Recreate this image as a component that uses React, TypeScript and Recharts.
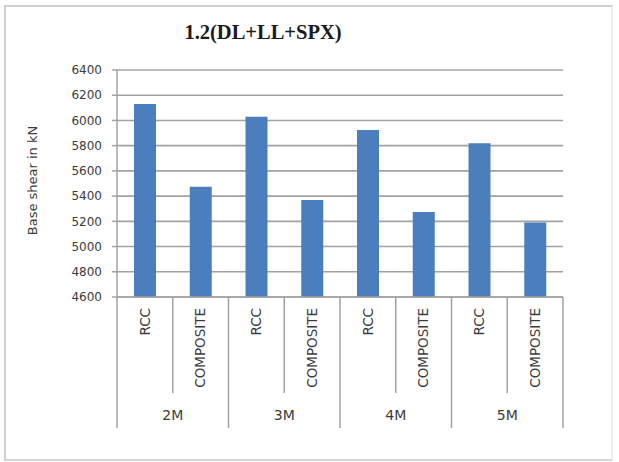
import React from 'react';
import { BarChart, Bar, XAxis, YAxis, CartesianGrid } from 'recharts';

// Categories: structure type within each storey-height group
const categories = ['RCC', 'COMPOSITE', 'RCC', 'COMPOSITE', 'RCC', 'COMPOSITE', 'RCC', 'COMPOSITE'];
const groups = ['2M', '2M', '3M', '3M', '4M', '4M', '5M', '5M'];
// Base shear values (kN)
const baseShear = [6130, 5475, 6030, 5370, 5925, 5275, 5820, 5190];
const yTicks = [4600, 4800, 5000, 5200, 5400, 5600, 5800, 6000, 6200, 6400];

const data = categories.map((c, i) => ({
  key: `${groups[i]}-${c}-${i}`,
  category: c,
  group: groups[i],
  value: baseShear[i],
}));

const AXIS_GRAY = '#a3a3a3';
const TEXT = '#3c3c3c';

const CategoryTick = (props: any) => {
  const { x, y, payload, index } = props;
  const half = payload && payload.offset ? payload.offset : 55.75 / 2;
  const cx = x;
  const left = cx - half;
  const right = cx + half;
  const isGroupStart = index % 2 === 0;
  const label = categories[index];
  const labelTop = y + 11;
  return (
    <g>
      <line
        x1={left}
        y1={y}
        x2={left}
        y2={y + (isGroupStart ? 131 : 96)}
        stroke={AXIS_GRAY}
        strokeWidth={1.5}
      />
      {index === categories.length - 1 && (
        <line x1={right} y1={y} x2={right} y2={y + 131} stroke={AXIS_GRAY} strokeWidth={1.5} />
      )}
      <text
        x={cx}
        y={labelTop}
        transform={`rotate(-90 ${cx} ${labelTop})`}
        textAnchor="end"
        dy="0.36em"
        fontFamily="DejaVu Sans"
        fontSize={13.5}
        fill={TEXT}
      >
        {label}
      </text>
      {!isGroupStart && (
        <text
          x={left}
          y={y + 123}
          textAnchor="middle"
          fontFamily="DejaVu Sans"
          fontSize={14}
          fill={TEXT}
        >
          {groups[index]}
        </text>
      )}
    </g>
  );
};

const YAxisTitle = (props: any) => {
  const vb = props.viewBox || { x: 57, y: 70, width: 60, height: 227 };
  const cx = vb.x - 25;
  const cy = vb.y + vb.height / 2 - 3;
  return (
    <text
      x={cx}
      y={cy}
      transform={`rotate(-90 ${cx} ${cy})`}
      textAnchor="middle"
      dy="0.36em"
      fontFamily="DejaVu Sans"
      fontSize={13}
      fill={TEXT}
    >
      Base shear in kN
    </text>
  );
};

export default function App() {
  return (
    <div style={{ position: 'absolute', left: 0, top: 0, width: 619, height: 462, background: '#fff' }}>
      <div
        style={{
          position: 'absolute',
          left: 4,
          top: 5,
          width: 605,
          height: 452,
          borderTop: '2px solid #cfcfcf',
          borderLeft: '2px solid #cfcfcf',
          borderBottom: '2px solid #d6d6d6',
          borderRight: '2px solid #ededed',
        }}
      />
      <div
        style={{
          position: 'absolute',
          left: 0,
          top: 21,
          width: 526,
          textAlign: 'center',
          fontFamily: 'Liberation Serif',
          fontWeight: 'bold',
          fontSize: 20.5,
          color: '#1a1a1a',
        }}
      >
        1.2(DL+LL+SPX)
      </div>
      <div style={{ position: 'absolute', left: 0, top: 0 }}>
        <BarChart
          width={619}
          height={462}
          data={data}
          margin={{ top: 70, right: 56, bottom: 0, left: 57 }}
        >
          <CartesianGrid vertical={false} stroke={AXIS_GRAY} strokeWidth={1.6} />
          <XAxis
            dataKey="key"
            height={165}
            tickSize={0}
            tickMargin={0}
            tickLine={false}
            axisLine={{ stroke: AXIS_GRAY, strokeWidth: 1.5 }}
            interval={0}
            tick={<CategoryTick />}
          />
          <YAxis
            width={60}
            domain={[4600, 6400]}
            ticks={yTicks}
            interval={0}
            tickSize={5}
            tickMargin={10}
            axisLine={{ stroke: AXIS_GRAY, strokeWidth: 1.5 }}
            tickLine={{ stroke: AXIS_GRAY, strokeWidth: 1.5 }}
            tick={{ fontFamily: 'DejaVu Sans', fontSize: 12, fill: TEXT }}
            allowDataOverflow
            label={<YAxisTitle />}
          />
          <Bar dataKey="value" fill="#4a7ebd" barSize={22} isAnimationActive={false} />
        </BarChart>
      </div>
    </div>
  );
}
